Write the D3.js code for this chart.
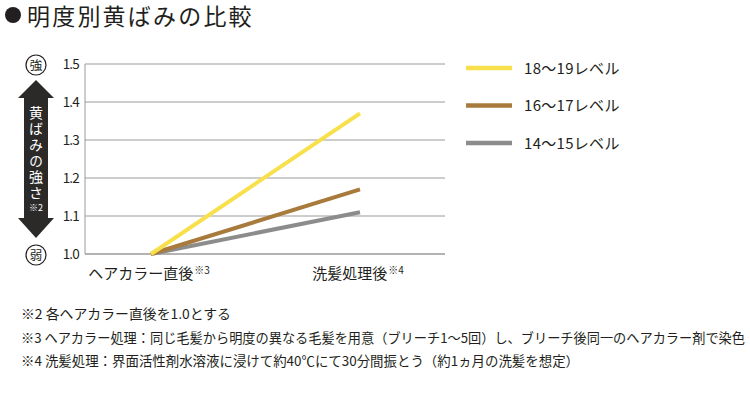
<!DOCTYPE html>
<html>
<head>
<meta charset="utf-8">
<script src="https://cdn.jsdelivr.net/npm/d3@7"></script>
<style>
  body { margin: 0; background: #fff; }
  svg text { font-family: "Noto Sans CJK JP", "Noto Sans", sans-serif; fill: #231f20; }
</style>
</head>
<body>
<div id="wrapper"></div>
<script>
// DATA
const categories = ["ヘアカラー直後", "洗髪処理後"];
const categoryNotes = ["※3", "※4"];
const seriesNames = ["18～19レベル", "16～17レベル", "14～15レベル"];
const seriesColors = ["#f7e04b", "#a87b3c", "#8c8c8c"];
const level1819 = [1.0, 1.37];
const level1617 = [1.0, 1.17];
const level1415 = [1.0, 1.11];
const yTicks = [1.0, 1.1, 1.2, 1.3, 1.4, 1.5];
const footnotes = [
  "※2 各ヘアカラー直後を1.0とする",
  "※3 ヘアカラー処理：同じ毛髪から明度の異なる毛髪を用意（ブリーチ1～5回）し、ブリーチ後同一のヘアカラー剤で染色",
  "※4 洗髪処理：界面活性剤水溶液に浸けて約40℃にて30分間振とう（約1ヵ月の洗髪を想定）"
];
const footnoteWidths = [210, 724, 558];

const series = [level1819, level1617, level1415].map((values, i) => ({
  name: seriesNames[i],
  color: seriesColors[i],
  values: values
}));

// DIMENSIONS
let dimensions = {
  width: 750,
  height: 395,
  margin: { top: 64, left: 85 },
  boundedWidth: 360,
  boundedHeight: 190
};

const svg = d3.select("#wrapper")
  .append("svg")
  .attr("width", dimensions.width)
  .attr("height", dimensions.height);

// title
svg.append("circle").attr("cx", 13).attr("cy", 15).attr("r", 8).attr("fill", "#231f20");
svg.append("text")
  .attr("x", 27).attr("y", 25)
  .attr("font-size", 23)
  .attr("letter-spacing", 2.2)
  .text("明度別黄ばみの比較");

const bounds = svg.append("g")
  .attr("transform", `translate(${dimensions.margin.left},${dimensions.margin.top})`);

// SCALES
const yScale = d3.scaleLinear()
  .domain([1.0, 1.5])
  .range([dimensions.boundedHeight, 0]);

const xScale = d3.scalePoint()
  .domain(categories)
  .range([66, 275]);

// grid
bounds.append("g")
  .selectAll("line")
  .data(yTicks)
  .join("line")
  .attr("x1", 0)
  .attr("x2", dimensions.boundedWidth)
  .attr("y1", d => yScale(d))
  .attr("y2", d => yScale(d))
  .attr("stroke", "#9a9a9a")
  .attr("stroke-width", d => d === 1.0 ? 1.5 : 1);

bounds.append("line")
  .attr("x1", 0).attr("x2", 0)
  .attr("y1", 0).attr("y2", dimensions.boundedHeight)
  .attr("stroke", "#9a9a9a");

// y tick labels
bounds.append("g")
  .selectAll("text")
  .data(yTicks)
  .join("text")
  .attr("x", -6)
  .attr("y", d => yScale(d) + 5)
  .attr("text-anchor", "end")
  .attr("font-size", 13.5)
  .attr("letter-spacing", -0.8)
  .text(d => d3.format(".1f")(d));

// lines
const lineGenerator = d3.line()
  .x((d, i) => xScale(categories[i]))
  .y(d => yScale(d));

bounds.append("g")
  .selectAll("path")
  .data(series.slice().reverse())
  .join("path")
  .attr("d", d => lineGenerator(d.values))
  .attr("fill", "none")
  .attr("stroke", d => d.color)
  .attr("stroke-width", 4);

// category labels
const catLabels = bounds.append("g")
  .selectAll("text")
  .data(categories)
  .join("text")
  .attr("x", d => xScale(d) - 2)
  .attr("y", dimensions.boundedHeight + 25)
  .attr("text-anchor", "middle")
  .attr("font-size", 15);
catLabels.append("tspan").text(d => d);
catLabels.append("tspan")
  .attr("font-size", 10)
  .attr("dy", -5)
  .attr("dx", 1)
  .text((d, i) => categoryNotes[i]);

// legend
const legend = svg.append("g")
  .selectAll("g")
  .data(series)
  .join("g")
  .attr("transform", (d, i) => `translate(466,${68 + i * 37.5})`);
legend.append("line")
  .attr("x1", 0).attr("x2", 46)
  .attr("stroke", d => d.color)
  .attr("stroke-width", 4.5);
legend.append("text")
  .attr("x", 58)
  .attr("y", 5.5)
  .attr("font-size", 15)
  .attr("letter-spacing", 0.3)
  .text(d => d.name);

// left indicator (arrow + circles)
const ind = svg.append("g");
const ax = 36;
ind.append("path")
  .attr("d", `M${ax},80 L${ax + 18},98 L${ax + 12},98 L${ax + 12},218 L${ax + 18},218 L${ax},238 L${ax - 18},218 L${ax - 12},218 L${ax - 12},98 L${ax - 18},98 Z`)
  .attr("fill", "#2b2a29");

ind.append("text")
  .attr("x", ax)
  .attr("y", 106)
  .attr("font-size", 14)
  .attr("letter-spacing", 2)
  .style("writing-mode", "vertical-rl")
  .style("fill", "#fff")
  .text("黄ばみの強さ");
ind.append("text")
  .attr("x", ax).attr("y", 211)
  .attr("text-anchor", "middle")
  .attr("font-size", 9)
  .style("fill", "#fff")
  .text("※2");

[["強", yScale(1.5)], ["弱", yScale(1.0)]].forEach(([t, y]) => {
  ind.append("circle")
    .attr("cx", ax).attr("cy", y + dimensions.margin.top + 1)
    .attr("r", 10)
    .attr("fill", "#fff")
    .attr("stroke", "#231f20")
    .attr("stroke-width", 1.2);
  ind.append("text")
    .attr("x", ax).attr("y", y + dimensions.margin.top + 5.5)
    .attr("text-anchor", "middle")
    .attr("font-size", 12.5)
    .text(t);
});

// footnotes
svg.append("g")
  .selectAll("text")
  .data(footnotes)
  .join("text")
  .attr("x", 21)
  .attr("y", (d, i) => 319 + i * 23.5)
  .attr("font-size", 13.5)
  .attr("textLength", (d, i) => footnoteWidths[i])
  .attr("lengthAdjust", "spacingAndGlyphs")
  .text(d => d);
</script>
</body>
</html>
